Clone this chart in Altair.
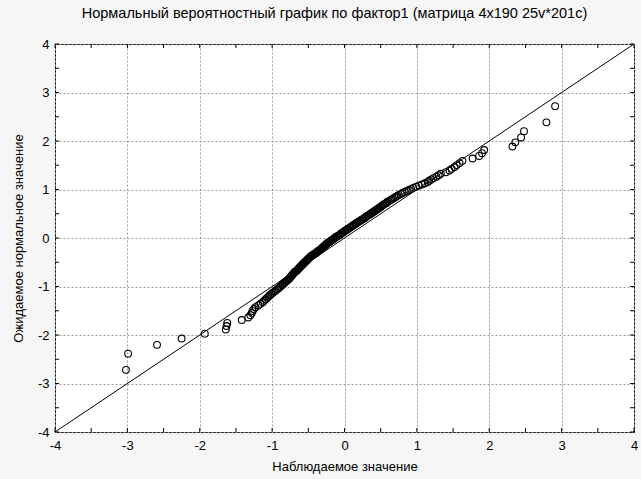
import altair as alt
import pandas as pd

observed = [
    -3.02, -2.99, -2.59, -2.25, -1.93, -1.64, -1.63, -1.62, -1.42, -1.33,
    -1.30, -1.28, -1.27, -1.25, -1.23, -1.19, -1.16, -1.13, -1.11, -1.09,
    -1.07, -1.05, -1.03, -1.01, -0.99, -0.97, -0.95, -0.93, -0.91, -0.89,
    -0.88, -0.86, -0.85, -0.83, -0.82, -0.80, -0.79, -0.77, -0.76, -0.75,
    -0.74, -0.73, -0.72, -0.71, -0.70, -0.69, -0.68, -0.66, -0.65, -0.64,
    -0.63, -0.62, -0.61, -0.60, -0.59, -0.58, -0.57, -0.56, -0.55, -0.54,
    -0.53, -0.52, -0.51, -0.50, -0.49, -0.48, -0.47, -0.46, -0.44, -0.43,
    -0.42, -0.40, -0.39, -0.38, -0.37, -0.36, -0.34, -0.33, -0.32, -0.31,
    -0.30, -0.29, -0.28, -0.27, -0.26, -0.25, -0.24, -0.23, -0.21, -0.20,
    -0.19, -0.18, -0.16, -0.15, -0.14, -0.13, -0.12, -0.10, -0.09, -0.07,
    -0.06, -0.05, -0.04, -0.03, -0.01, 0.00, 0.01, 0.03, 0.04, 0.05,
    0.07, 0.08, 0.09, 0.11, 0.12, 0.13, 0.15, 0.16, 0.17, 0.19,
    0.20, 0.22, 0.23, 0.25, 0.26, 0.28, 0.29, 0.30, 0.32, 0.33,
    0.35, 0.36, 0.38, 0.39, 0.41, 0.42, 0.44, 0.45, 0.47, 0.48,
    0.50, 0.51, 0.53, 0.54, 0.56, 0.58, 0.59, 0.61, 0.63, 0.65,
    0.67, 0.69, 0.71, 0.73, 0.75, 0.78, 0.80, 0.83, 0.86, 0.89,
    0.92, 0.95, 0.99, 1.03, 1.07, 1.11, 1.15, 1.17, 1.20, 1.23,
    1.27, 1.30, 1.33, 1.40, 1.45, 1.48, 1.52, 1.55, 1.59, 1.63,
    1.77, 1.86, 1.90, 1.93, 2.32, 2.36, 2.44, 2.48, 2.79, 2.91,
]

expected = [
    -2.718, -2.385, -2.203, -2.073, -1.972, -1.887, -1.814, -1.750, -1.692, -1.639,
    -1.591, -1.545, -1.503, -1.464, -1.426, -1.391, -1.357, -1.325, -1.294, -1.264,
    -1.235, -1.207, -1.180, -1.154, -1.129, -1.105, -1.080, -1.057, -1.034, -1.012,
    -0.990, -0.969, -0.948, -0.928, -0.908, -0.888, -0.869, -0.850, -0.831, -0.812,
    -0.794, -0.776, -0.759, -0.741, -0.724, -0.707, -0.690, -0.673, -0.657, -0.641,
    -0.624, -0.609, -0.593, -0.577, -0.562, -0.546, -0.531, -0.516, -0.501, -0.486,
    -0.472, -0.457, -0.442, -0.428, -0.414, -0.399, -0.385, -0.371, -0.357, -0.343,
    -0.329, -0.316, -0.302, -0.288, -0.275, -0.261, -0.247, -0.234, -0.220, -0.207,
    -0.193, -0.180, -0.166, -0.153, -0.139, -0.126, -0.112, -0.099, -0.086, -0.073,
    -0.059, -0.046, -0.033, -0.020, -0.007, 0.007, 0.020, 0.033, 0.046, 0.059,
    0.073, 0.086, 0.099, 0.112, 0.126, 0.139, 0.153, 0.166, 0.180, 0.193,
    0.207, 0.220, 0.234, 0.247, 0.261, 0.275, 0.288, 0.302, 0.316, 0.329,
    0.343, 0.357, 0.371, 0.385, 0.399, 0.414, 0.428, 0.442, 0.457, 0.472,
    0.486, 0.501, 0.516, 0.531, 0.546, 0.562, 0.577, 0.593, 0.609, 0.624,
    0.641, 0.657, 0.673, 0.690, 0.707, 0.724, 0.741, 0.759, 0.776, 0.794,
    0.812, 0.831, 0.850, 0.869, 0.888, 0.908, 0.928, 0.948, 0.969, 0.990,
    1.012, 1.034, 1.057, 1.080, 1.105, 1.129, 1.154, 1.180, 1.207, 1.235,
    1.264, 1.294, 1.325, 1.357, 1.391, 1.426, 1.464, 1.503, 1.545, 1.591,
    1.639, 1.692, 1.750, 1.814, 1.887, 1.972, 2.073, 2.203, 2.385, 2.718,
]

line_x = [-4, 4]
line_y = [-4, 4]
tick_vals = [-4, -3.5, -3, -2.5, -2, -1.5, -1, -0.5, 0, 0.5, 1, 1.5, 2, 2.5, 3, 3.5, 4]
label_vals = [-4, -3, -2, -1, 0, 1, 2, 3, 4]

W, H = 579, 388
FONT = "Liberation Sans"

pts = pd.DataFrame({"obs": observed, "exp": expected})
diag = pd.DataFrame({"lx": line_x, "ly": line_y})
ticks = pd.DataFrame({"t": tick_vals})

xs = alt.Scale(domain=[-4, 4], nice=False, zero=False)
ys = alt.Scale(domain=[-4, 4], nice=False, zero=False)

x_axis = alt.Axis(values=label_vals, title="Наблюдаемое значение", ticks=False,
                  domain=False, grid=True, gridColor="#9a9a9a", gridDash=[2, 2],
                  gridWidth=1, labelPadding=7, labelFontSize=13, labelFont=FONT,
                  labelColor="#000", titleFont=FONT, titleFontSize=13,
                  titleFontWeight="normal", titleColor="#000", titlePadding=8,
                  labelFlush=False, labelExpr="datum.value + ''")
y_axis = alt.Axis(values=label_vals, title="Ожидаемое нормальное значение", ticks=False,
                  domain=False, grid=True, gridColor="#9a9a9a", gridDash=[2, 2],
                  gridWidth=1, labelPadding=6, labelFontSize=13, labelFont=FONT,
                  labelColor="#000", titleFont=FONT, titleFontSize=13,
                  titleFontWeight="normal", titleColor="#000", titlePadding=12,
                  labelFlush=False, labelExpr="datum.value + ''")

points = alt.Chart(pts).mark_point(shape="circle", filled=False, size=46,
                                   stroke="#000", strokeWidth=1.1, opacity=1).encode(
    x=alt.X("obs:Q", scale=xs, axis=x_axis),
    y=alt.Y("exp:Q", scale=ys, axis=y_axis),
)

line = alt.Chart(diag).mark_line(color="#000", strokeWidth=1).encode(
    x=alt.X("lx:Q", scale=xs, axis=x_axis),
    y=alt.Y("ly:Q", scale=ys, axis=y_axis),
)

tb = alt.Chart(ticks).mark_rule(color="#000", strokeWidth=1).encode(
    x=alt.X("t:Q", scale=xs, axis=x_axis), y=alt.value(H), y2=alt.value(H - 4))
tt = alt.Chart(ticks).mark_rule(color="#000", strokeWidth=1).encode(
    x=alt.X("t:Q", scale=xs, axis=x_axis), y=alt.value(0), y2=alt.value(4))
tl = alt.Chart(ticks).mark_rule(color="#000", strokeWidth=1).encode(
    y=alt.Y("t:Q", scale=ys, axis=y_axis), x=alt.value(0), x2=alt.value(4))
tr = alt.Chart(ticks).mark_rule(color="#000", strokeWidth=1).encode(
    y=alt.Y("t:Q", scale=ys, axis=y_axis), x=alt.value(W), x2=alt.value(W - 4))

chart = alt.layer(points, line, tb, tt, tl, tr).properties(
    width=W, height=H,
    title=alt.TitleParams(
        "Нормальный вероятностный график по фактор1 (матрица 4x190 25v*201c)",
        font=FONT, fontSize=14.5, fontWeight="normal", color="#000",
        anchor="middle", offset=17, dx=-10),
    autosize=alt.AutoSizeParams(type="none"),
    padding={"left": 55, "top": 44, "right": 7, "bottom": 47},
    background="#f6f6f6",
).configure_view(stroke="#000", strokeWidth=1, fill="#ffffff")

chart.save("out.html", embed_options={"renderer": "svg", "actions": False})
